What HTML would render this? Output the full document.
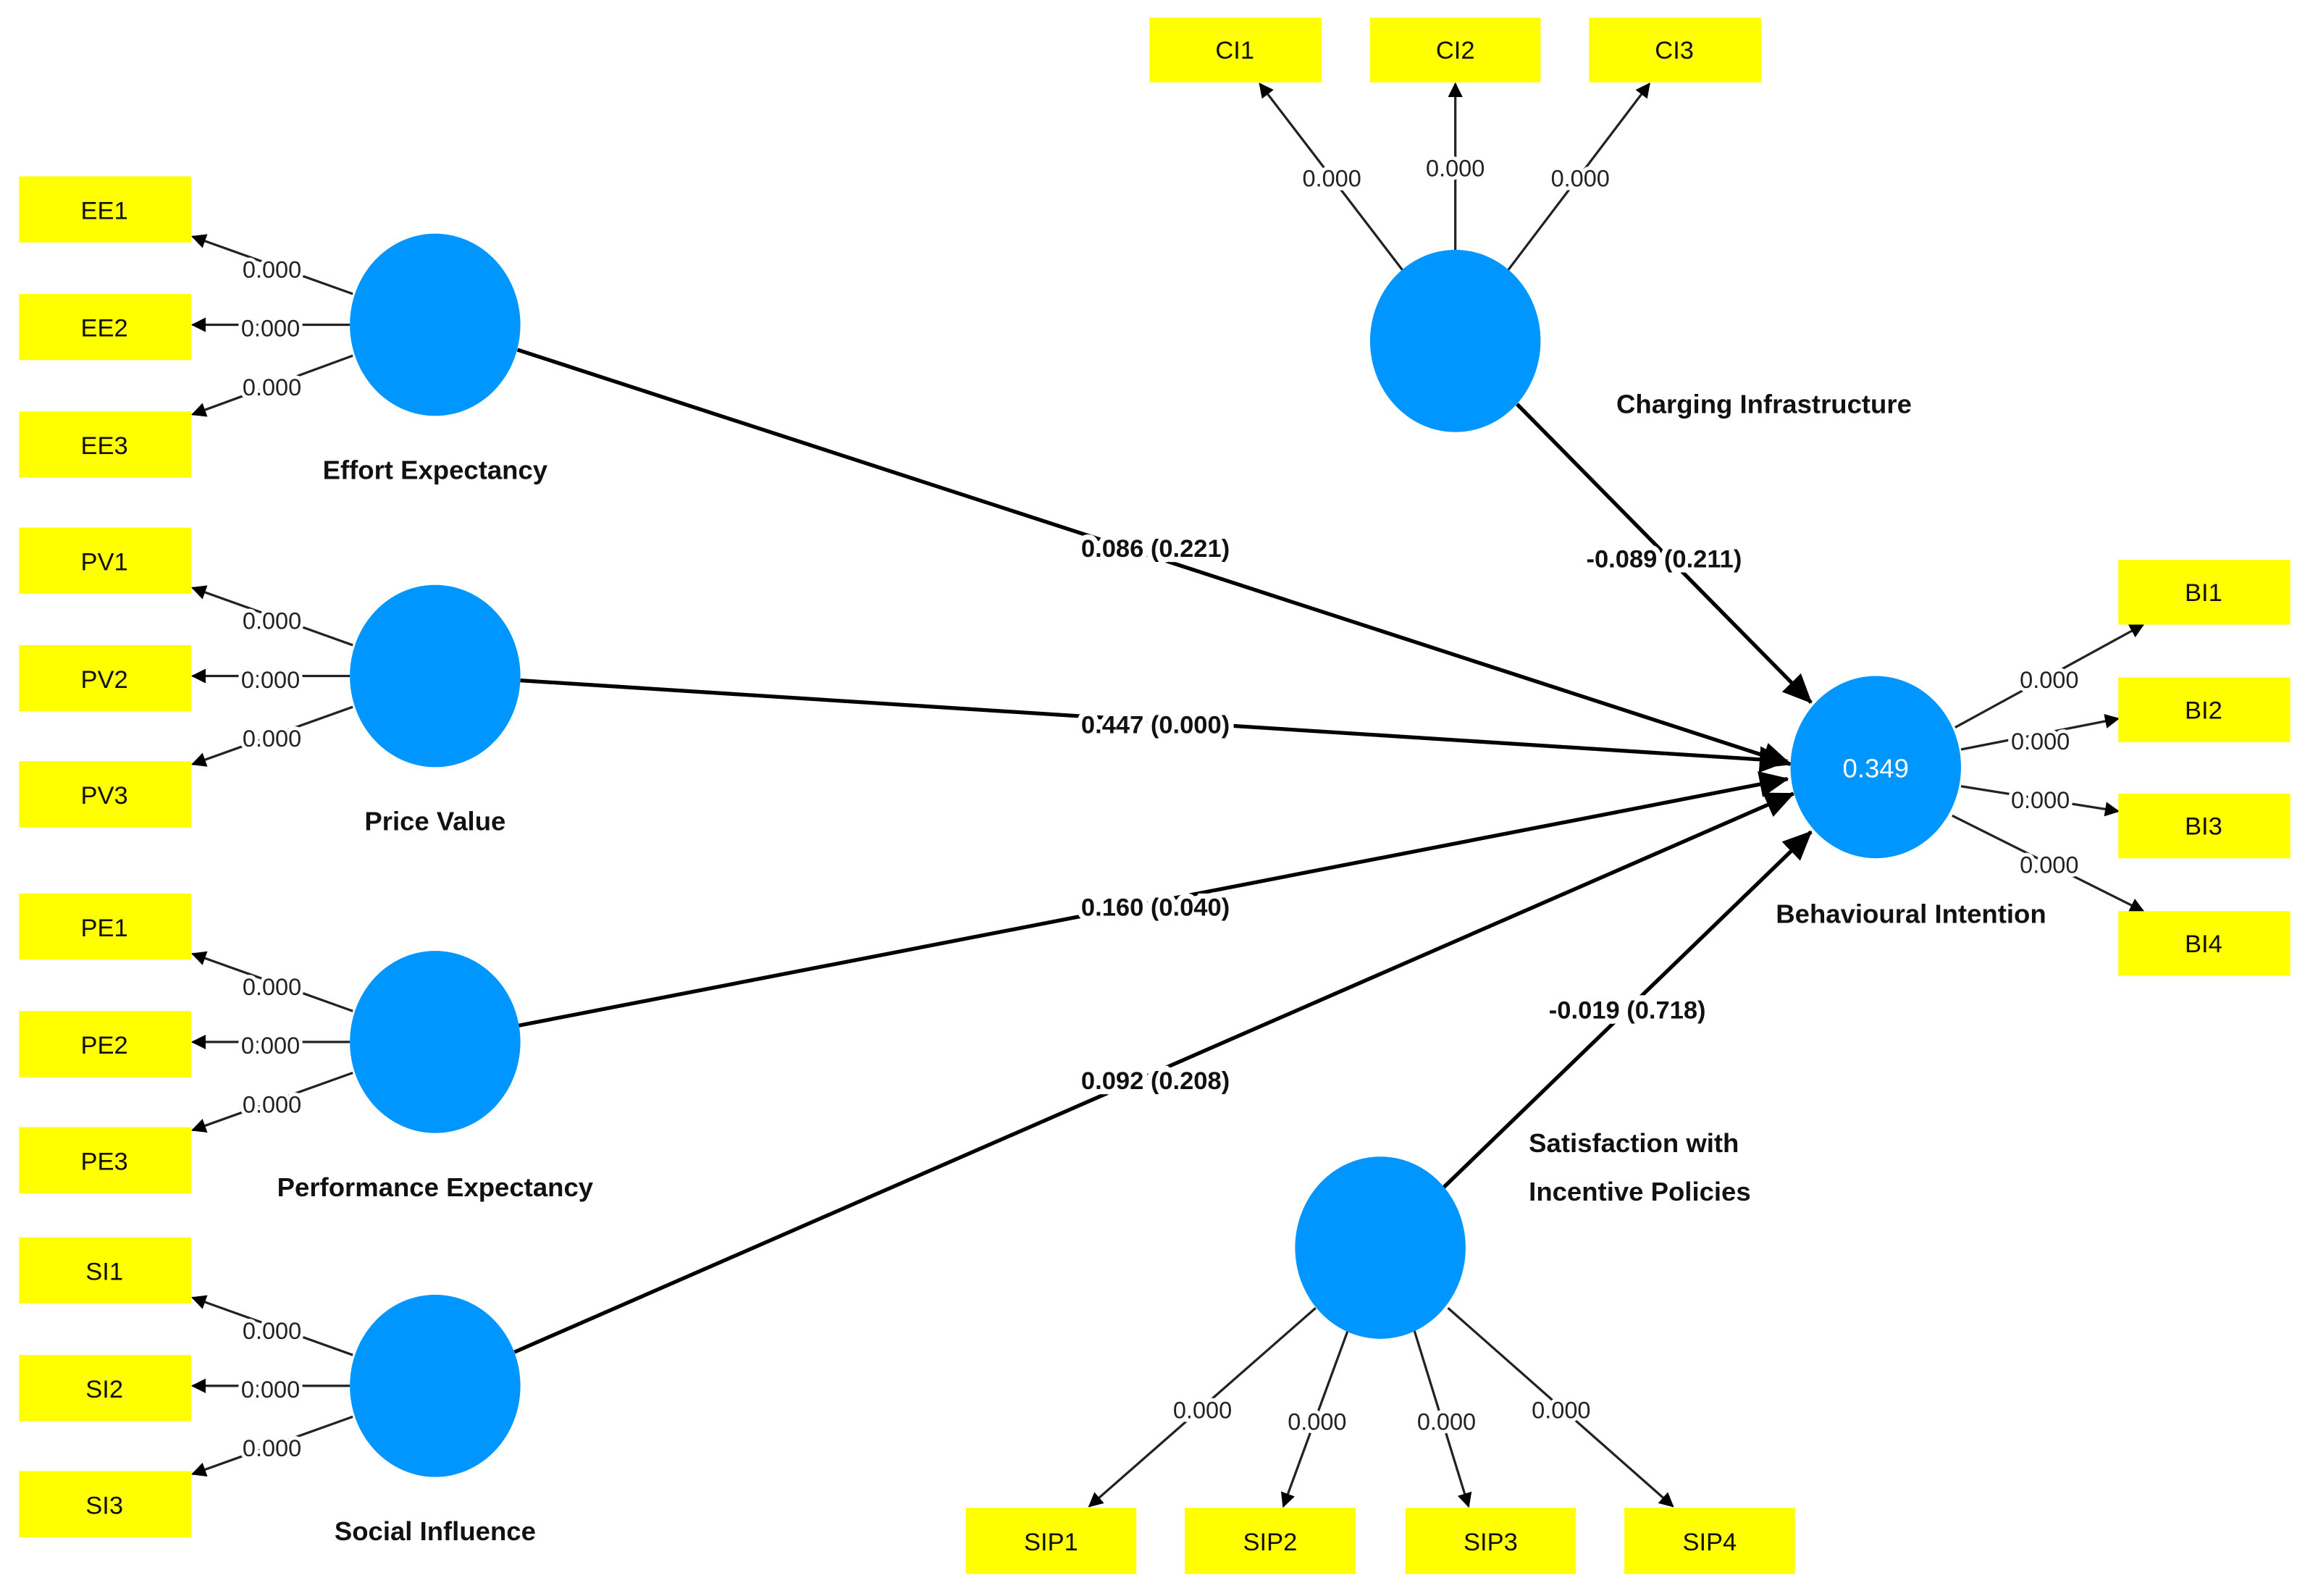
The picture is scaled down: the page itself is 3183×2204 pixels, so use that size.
<!DOCTYPE html>
<html><head><meta charset="utf-8"><style>
html,body{margin:0;padding:0;background:#fff;}
svg{display:block;}
text{font-family:"Liberation Sans",sans-serif;}
.b{fill:#ffff00;}
.c{fill:#0096ff;}
.bl{font-size:17px;text-anchor:middle;fill:#111;}
.ld{font-size:16px;text-anchor:middle;fill:#222;paint-order:stroke;stroke:#fff;stroke-width:5px;}
.pl{font-size:17px;font-weight:bold;text-anchor:middle;fill:#111;paint-order:stroke;stroke:#fff;stroke-width:7px;}
.nl{font-size:18px;font-weight:bold;fill:#111;}
.l{stroke:#222;stroke-width:1.6;fill:none;marker-end:url(#a);}
.p{stroke:#000;stroke-width:2.6;fill:none;marker-end:url(#A);}
</style></head><body>
<svg width="3183" height="2204" viewBox="0 0 1568 1086" preserveAspectRatio="none" xmlns="http://www.w3.org/2000/svg">
<defs>
<marker id="a" markerWidth="10" markerHeight="10" refX="9" refY="5" orient="auto" markerUnits="userSpaceOnUse" viewBox="0 0 10 10"><path d="M0,0 L10,5 L0,10 z" fill="#000"/></marker>
<marker id="A" markerWidth="20" markerHeight="18" refX="19" refY="9" orient="auto" markerUnits="userSpaceOnUse" viewBox="0 0 20 18"><path d="M0,0 L20,9 L0,18 z" fill="#000"/></marker>
</defs>
<!-- structural paths -->
<line class="p" x1="352" y1="238" x2="1218" y2="520"/>
<line class="p" x1="354" y1="463" x2="1216" y2="518"/>
<line class="p" x1="352" y1="698" x2="1216" y2="530"/>
<line class="p" x1="350" y1="920" x2="1220" y2="540"/>
<line class="p" x1="1032" y1="275" x2="1232" y2="478"/>
<line class="p" x1="982" y1="808" x2="1232" y2="566"/>
<!-- left loadings -->
<g>
<line class="l" x1="240" y1="200" x2="131" y2="161"/><line class="l" x1="238" y1="221" x2="131" y2="221"/><line class="l" x1="240" y1="242" x2="131" y2="282"/>
<line class="l" x1="240" y1="439" x2="131" y2="400"/><line class="l" x1="238" y1="460" x2="131" y2="460"/><line class="l" x1="240" y1="481" x2="131" y2="520"/>
<line class="l" x1="240" y1="688" x2="131" y2="649"/><line class="l" x1="238" y1="709" x2="131" y2="709"/><line class="l" x1="240" y1="730" x2="131" y2="769"/>
<line class="l" x1="240" y1="922" x2="131" y2="883"/><line class="l" x1="238" y1="943" x2="131" y2="943"/><line class="l" x1="240" y1="964" x2="131" y2="1003"/>
</g>
<!-- CI loadings -->
<line class="l" x1="955" y1="185" x2="857" y2="57"/><line class="l" x1="990" y1="170" x2="990" y2="57"/><line class="l" x1="1025" y1="185" x2="1122" y2="57"/>
<!-- BI loadings -->
<line class="l" x1="1330" y1="495" x2="1458" y2="425"/><line class="l" x1="1334" y1="510" x2="1441" y2="489"/><line class="l" x1="1334" y1="535" x2="1441" y2="552"/><line class="l" x1="1328" y1="555" x2="1458" y2="620"/>
<!-- SIP loadings -->
<line class="l" x1="895" y1="890" x2="741" y2="1025"/><line class="l" x1="917" y1="905" x2="873" y2="1025"/><line class="l" x1="962" y1="905" x2="999" y2="1025"/><line class="l" x1="985" y1="890" x2="1138" y2="1025"/>
<!-- boxes -->
<g>
<rect class="b" x="13" y="120" width="117" height="45"/><text class="bl" x="71" y="149">EE1</text>
<rect class="b" x="13" y="200" width="117" height="45"/><text class="bl" x="71" y="229">EE2</text>
<rect class="b" x="13" y="280" width="117" height="45"/><text class="bl" x="71" y="309">EE3</text>
<rect class="b" x="13" y="359" width="117" height="45"/><text class="bl" x="71" y="388">PV1</text>
<rect class="b" x="13" y="439" width="117" height="45"/><text class="bl" x="71" y="468">PV2</text>
<rect class="b" x="13" y="518" width="117" height="45"/><text class="bl" x="71" y="547">PV3</text>
<rect class="b" x="13" y="608" width="117" height="45"/><text class="bl" x="71" y="637">PE1</text>
<rect class="b" x="13" y="688" width="117" height="45"/><text class="bl" x="71" y="717">PE2</text>
<rect class="b" x="13" y="767" width="117" height="45"/><text class="bl" x="71" y="796">PE3</text>
<rect class="b" x="13" y="842" width="117" height="45"/><text class="bl" x="71" y="871">SI1</text>
<rect class="b" x="13" y="922" width="117" height="45"/><text class="bl" x="71" y="951">SI2</text>
<rect class="b" x="13" y="1001" width="117" height="45"/><text class="bl" x="71" y="1030">SI3</text>
<rect class="b" x="782" y="12" width="117" height="44"/><text class="bl" x="840" y="40">CI1</text>
<rect class="b" x="932" y="12" width="116" height="44"/><text class="bl" x="990" y="40">CI2</text>
<rect class="b" x="1081" y="12" width="117" height="44"/><text class="bl" x="1139" y="40">CI3</text>
<rect class="b" x="1441" y="381" width="117" height="44"/><text class="bl" x="1499" y="409">BI1</text>
<rect class="b" x="1441" y="461" width="117" height="44"/><text class="bl" x="1499" y="489">BI2</text>
<rect class="b" x="1441" y="540" width="117" height="44"/><text class="bl" x="1499" y="568">BI3</text>
<rect class="b" x="1441" y="620" width="117" height="44"/><text class="bl" x="1499" y="648">BI4</text>
<rect class="b" x="657" y="1026" width="116" height="45"/><text class="bl" x="715" y="1055">SIP1</text>
<rect class="b" x="806" y="1026" width="116" height="45"/><text class="bl" x="864" y="1055">SIP2</text>
<rect class="b" x="956" y="1026" width="116" height="45"/><text class="bl" x="1014" y="1055">SIP3</text>
<rect class="b" x="1105" y="1026" width="116" height="45"/><text class="bl" x="1163" y="1055">SIP4</text>
</g>
<!-- loading labels -->
<g>
<text class="ld" x="185" y="189">0.000</text><text class="ld" x="184" y="229">0.000</text><text class="ld" x="185" y="269">0.000</text>
<text class="ld" x="185" y="428">0.000</text><text class="ld" x="184" y="468">0.000</text><text class="ld" x="185" y="508">0.000</text>
<text class="ld" x="185" y="677">0.000</text><text class="ld" x="184" y="717">0.000</text><text class="ld" x="185" y="757">0.000</text>
<text class="ld" x="185" y="911">0.000</text><text class="ld" x="184" y="951">0.000</text><text class="ld" x="185" y="991">0.000</text>
<text class="ld" x="906" y="127">0.000</text><text class="ld" x="990" y="120">0.000</text><text class="ld" x="1075" y="127">0.000</text>
<text class="ld" x="1394" y="468">0.000</text><text class="ld" x="1388" y="510">0.000</text><text class="ld" x="1388" y="550">0.000</text><text class="ld" x="1394" y="594">0.000</text>
<text class="ld" x="818" y="965">0.000</text><text class="ld" x="896" y="973">0.000</text><text class="ld" x="984" y="973">0.000</text><text class="ld" x="1062" y="965">0.000</text>
</g>
<!-- path labels -->
<text class="pl" x="786" y="379">0.086 (0.221)</text>
<text class="pl" x="786" y="499">0.447 (0.000)</text>
<text class="pl" x="786" y="623">0.160 (0.040)</text>
<text class="pl" x="786" y="741">0.092 (0.208)</text>
<text class="pl" x="1132" y="386">-0.089 (0.211)</text>
<text class="pl" x="1107" y="693">-0.019 (0.718)</text>
<!-- circles -->
<ellipse class="c" cx="296" cy="221" rx="58" ry="62"/>
<ellipse class="c" cx="296" cy="460" rx="58" ry="62"/>
<ellipse class="c" cx="296" cy="709" rx="58" ry="62"/>
<ellipse class="c" cx="296" cy="943" rx="58" ry="62"/>
<ellipse class="c" cx="990" cy="232" rx="58" ry="62"/>
<ellipse class="c" cx="1276" cy="522" rx="58" ry="62"/>
<ellipse class="c" cx="939" cy="849" rx="58" ry="62"/>
<text x="1276" y="529" style="font-size:18px;fill:#fff;text-anchor:middle">0.349</text>
<!-- construct names -->
<text class="nl" x="296" y="326" text-anchor="middle">Effort Expectancy</text>
<text class="nl" x="296" y="565" text-anchor="middle">Price Value</text>
<text class="nl" x="296" y="814" text-anchor="middle">Performance Expectancy</text>
<text class="nl" x="296" y="1048" text-anchor="middle">Social Influence</text>
<text class="nl" x="1200" y="281" text-anchor="middle">Charging Infrastructure</text>
<text class="nl" x="1300" y="628" text-anchor="middle">Behavioural Intention</text>
<text class="nl" x="1040" y="784">Satisfaction with</text>
<text class="nl" x="1040" y="817">Incentive Policies</text>
</svg>
</body></html>
